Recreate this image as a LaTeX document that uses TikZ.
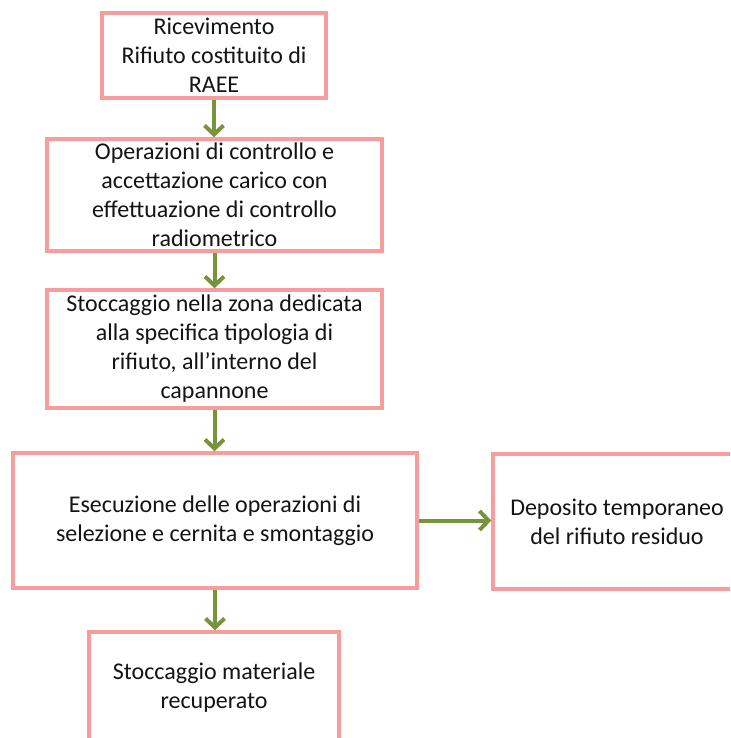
\documentclass[tikz,border=0pt]{standalone}
\usepackage{fontspec}
\setmainfont{Carlito}
\usetikzlibrary{arrows.meta}
\definecolor{boxpink}{RGB}{246,158,158}
\definecolor{arrgreen}{RGB}{119,147,60}
\definecolor{txt}{RGB}{20,20,20}
\tikzset{
  flowbox/.style={draw=boxpink, line width=3.5pt, fill=white, inner sep=0pt,
    align=center, text=txt, font=\fontsize{24}{29}\selectfont},
  flowarrow/.style={draw=arrgreen, line width=4pt,
    -{Straight Barb[length=9pt,width=19pt]}}
}
\begin{document}
\begin{tikzpicture}[x=1pt,y=-1pt]
\useasboundingbox (0,0) rectangle (730,738);
\clip (0,0) rectangle (730,738);
\node[flowbox, minimum width=224pt, minimum height=85pt] (b1) at (214,55.5)
  {Ricevimento\\Rifiuto costituito di\\RAEE};
\node[flowbox, minimum width=335pt, minimum height=112pt] (b2) at (214.5,195)
  {Operazioni di controllo e\\accettazione carico con\\effettuazione di controllo\\radiometrico};
\node[flowbox, minimum width=335pt, minimum height=118pt] (b3) at (214.5,349)
  {Stoccaggio nella zona dedicata\\alla specifica tipologia di\\rifiuto, all'interno del\\capannone};
\node[flowbox, minimum width=404pt, minimum height=135pt] (b4) at (215,520.5)
  {Esecuzione delle operazioni di\\selezione e cernita e smontaggio};
\node[flowbox, minimum width=248pt, minimum height=135pt] (b5) at (617,521.5)
  {Deposito temporaneo\\del rifiuto residuo};
\node[flowbox, minimum width=250pt, minimum height=112pt] (b6) at (214,688)
  {Stoccaggio materiale\\recuperato};
\draw[flowarrow] (b1.south) -- (b1.south |- b2.north);
\draw[flowarrow] (b2.south) -- (b2.south |- b3.north);
\draw[flowarrow] (b3.south) -- (b3.south |- b4.north);
\draw[flowarrow] (b4.south) -- (b4.south |- b6.north);
\draw[flowarrow] (b4.east) -- (b4.east -| b5.west);
\end{tikzpicture}
\end{document}
